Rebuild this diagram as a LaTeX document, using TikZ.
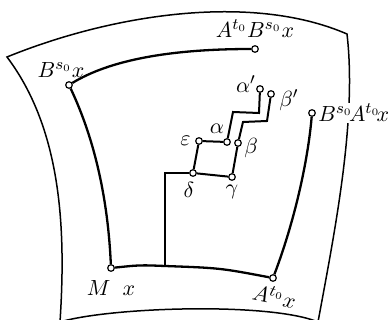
\documentclass[tikz,border=0pt]{standalone}
\usetikzlibrary{positioning}

\begin{document}
\begin{tikzpicture}[x=0.5pt, y=-0.5pt, node distance=1pt,
    pt/.style={circle, draw, fill=white, line width=0.6pt, inner sep=0pt, minimum size=3.3pt},
    lbl/.style={inner sep=1pt, font=\fontsize{11}{13}\selectfont},
    orbit/.style={line width=1.15pt},
    rung/.style={line width=1pt},
    sheet/.style={line width=0.75pt}]
  \useasboundingbox (0,0) rectangle (391,320);
  % the leaf
  \draw[sheet] (7,57) .. controls (110,15) and (250,-8) .. (347,34)
    .. controls (357,120) and (335,230) .. (318,322)
    .. controls (270,302) and (110,307) .. (60,322)
    .. controls (66,230) and (62,130) .. (7,57) -- cycle;
  % points
  \node[pt] (Bx) at (69,85) {};
  \node[pt] (ABx) at (255,49) {};
  \node[pt] (M) at (111,268) {};
  \node[pt] (Ax) at (273,278) {};
  \node[pt] (BAx) at (312,113) {};
  \node[pt] (delta) at (193,173) {};
  \node[pt] (gamma) at (232,177) {};
  \node[pt] (eps) at (199,141) {};
  \node[pt] (alpha) at (227,142) {};
  \node[pt] (beta) at (238,143) {};
  \node[pt] (alphap) at (260,89) {};
  \node[pt] (betap) at (271,94) {};
  \coordinate (J) at (165,266);
  \coordinate (K) at (165,173);
  \coordinate (a1) at (233,112);
  \coordinate (a2) at (259,113);
  \coordinate (b1) at (243,122);
  \coordinate (b2) at (267,121);
  % paths
  \draw[orbit] (Bx) .. controls (110,60) and (170,49) .. (ABx);
  \draw[orbit] (Bx) .. controls (95,140) and (108,200) .. (M);
  \draw[orbit] (M) .. controls (140,265) .. (J) .. controls (220,268) .. (Ax);
  \draw[orbit] (Ax) .. controls (295,220) and (308,160) .. (BAx);
  \draw[rung] (J) -- (K) -- (delta);
  \draw[rung] (delta) -- (gamma) -- (beta) -- (b1) -- (b2) -- (betap);
  \draw[rung] (delta) -- (eps) -- (alpha) -- (a1) -- (a2) -- (alphap);
  % labels
  \node[lbl] (lBx) [above=0.5pt of Bx, xshift=-4pt] {$B^{s_0}x$};
  \node[lbl] (lABx) [above=2.5pt of ABx] {$A^{t_0}B^{s_0}x$};
  \node[lbl, fill=white, inner sep=0.5pt] (lBAx) [right=0.5pt of BAx] {$B^{s_0}\!A^{t_0}\!x$};
  \node[lbl] (lM) [below=3pt of M] {$M\;\;x$};
  \node[lbl, rotate=-12] (lAx) [below=1pt of Ax, xshift=2pt] {$A^{t_0}x$};
  \node[lbl] (ldelta) [below=1.5pt of delta, xshift=-2pt] {$\delta$};
  \node[lbl] (lgamma) [below=1pt of gamma] {$\gamma$};
  \node[lbl] (leps) [left=1pt of eps] {$\varepsilon$};
  \node[lbl] (lalpha) [above left=1.5pt and -1pt of alpha] {$\alpha$};
  \node[lbl] (lbeta) [right=0pt of beta, yshift=-2.5pt] {$\beta$};
  \node[lbl] (lalphap) [left=-1pt of alphap, yshift=2.5pt] {$\alpha'$};
  \node[lbl] (lbetap) [right=1pt of betap, yshift=-3pt] {$\beta'$};
\end{tikzpicture}
\end{document}
